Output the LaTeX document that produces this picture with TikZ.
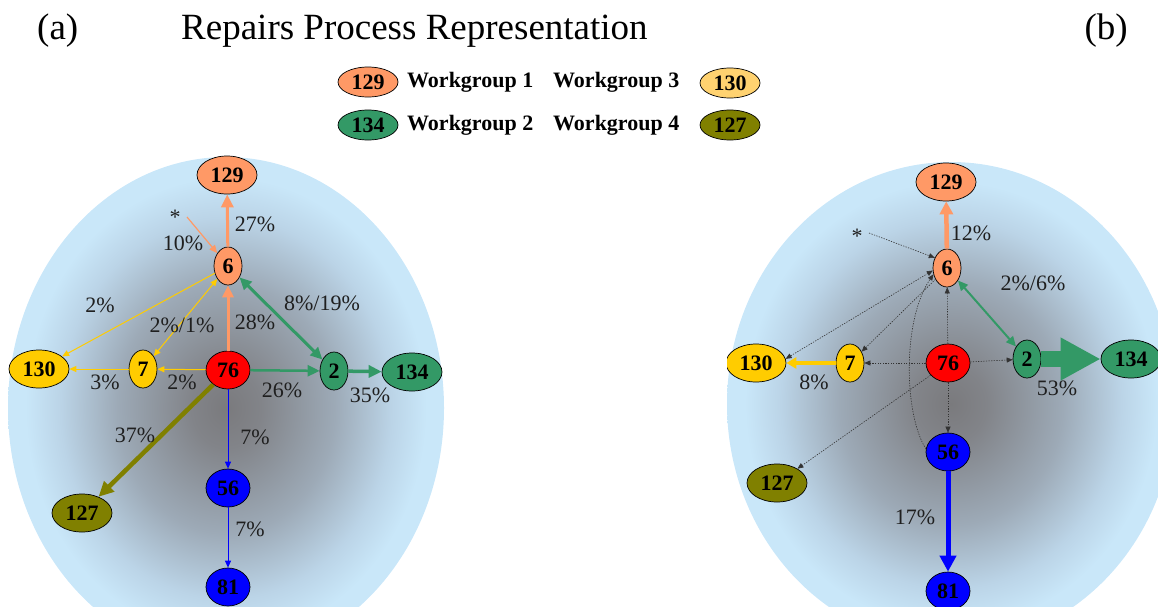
\documentclass[tikz,border=0pt]{standalone}
\usepackage{fontspec}
\setmainfont{Liberation Serif}
\usetikzlibrary{shapes.geometric,arrows.meta}

% workgroup and flow colours
\definecolor{salmon}{RGB}{255,153,102}
\definecolor{wgtwo}{RGB}{51,153,102}
\definecolor{gold}{RGB}{255,204,0}
\definecolor{paleorange}{RGB}{255,210,112}
\definecolor{olivegr}{RGB}{128,128,0}
\definecolor{pureblue}{RGB}{0,0,255}
\definecolor{purered}{RGB}{255,0,0}
% background haze: dark grey core fading to sky blue
\definecolor{sky}{RGB}{201,231,249}
\definecolor{hazecore}{RGB}{122,122,125}
\definecolor{hazea}{RGB}{130,132,137}
\definecolor{hazeb}{RGB}{157,170,183}
\definecolor{hazec}{RGB}{187,212,231}

% the rim of the shaded path sits at 25bp of the shading
\pgfdeclareradialshading{haze}{\pgfpointorigin}{%
  color(0bp)=(hazecore); color(4bp)=(hazea); color(12.5bp)=(hazeb);
  color(19bp)=(hazec); color(23bp)=(sky); color(50bp)=(sky)}

\tikzset{
  wg/.style={ellipse, draw=black, line width=0.7pt, inner sep=0pt,
             font=\bfseries\fontsize{22}{22}\selectfont},
  ovwide/.style={wg, minimum width=60pt, minimum height=38pt},
  ovmid/.style={wg, minimum width=44pt, minimum height=38pt},
  ovnarrow/.style={wg, minimum width=28pt, minimum height=38pt},
  legendoval/.style={wg, minimum width=60pt, minimum height=30pt},
  pct/.style={inner sep=0pt, font=\fontsize{22}{22}\selectfont, text=black!88},
  keytext/.style={inner sep=0pt, anchor=west,
                  font=\bfseries\fontsize{22}{22}\selectfont},
  ttl/.style={inner sep=0pt, font=\fontsize{37}{37}\selectfont},
  thinflow/.style={line width=1pt, -{Triangle[length=7pt,width=6pt]}},
  thinboth/.style={line width=1pt,
     {Triangle[length=7pt,width=6pt]}-{Triangle[length=7pt,width=6pt]}},
  dots/.style={draw=black!80, line width=0.6pt, dash pattern=on 1.3pt off 1.3pt,
     -{Triangle[length=6pt,width=5pt]}},
}

\begin{document}
\begin{tikzpicture}[x=1pt,y=-1pt]
\useasboundingbox (0,0) rectangle (1158,606);

% ---------- titles ----------
\node[ttl, anchor=west] (ta) at (37,31) {(a)};
\node[ttl, anchor=west] (tt) at (181,31) {Repairs Process Representation};
\node[ttl, anchor=east] (tb) at (1128,31) {(b)};

% ---------- legend ----------
\node[legendoval, fill=salmon] (l129) at (368,82) {129};
\node[keytext] (k1) at (407,82) {Workgroup 1};
\node[keytext] (k3) at (553,82) {Workgroup 3};
\node[legendoval, fill=paleorange] (l130) at (730,83) {130};
\node[legendoval, fill=wgtwo] (l134) at (368,125) {134};
\node[keytext] (k2) at (407,125) {Workgroup 2};
\node[keytext] (k4) at (553,125) {Workgroup 4};
\node[legendoval, fill=olivegr] (l127) at (730,125) {127};

% ---------- panel (a) ----------
\shade[shading=haze] (226,408) ellipse [x radius=218pt, y radius=251pt];

\node[ovwide, fill=salmon] (a129) at (227,175) {129};
\node[ovnarrow, fill=salmon] (a6) at (228,266) {6};
\node[ovmid, fill=purered] (a76) at (228,370) {76};
\node[ovnarrow, fill=gold] (a7) at (143,369) {7};
\node[ovwide, fill=gold] (a130) at (39,369) {130};
\node[ovnarrow, fill=wgtwo] (a2) at (334,371) {2};
\node[ovwide, fill=wgtwo] (a134) at (412,372) {134};
\node[ovwide, fill=olivegr] (a127) at (82,513) {127};
\node[ovmid, fill=pureblue] (a56) at (228,488) {56};
\node[ovmid, fill=pureblue] (a81) at (228,587) {81};
\coordinate (astar) at (187,217);

\draw[salmon, line width=3pt, -{Triangle[length=12pt,width=11pt]}] (a76) -- (a6);
\draw[salmon, line width=3pt, -{Triangle[length=13pt,width=12pt]}] (a6) -- (a129);
\draw[salmon, line width=1.2pt, -{Triangle[length=8pt,width=7pt]}] (astar) -- (a6);
\draw[gold, thinflow] (a6) -- (a130);
\draw[gold, thinboth] (a6) -- (a7);
\draw[gold, thinflow] (a76) -- (a7);
\draw[gold, thinflow] (a7) -- (a130);
\draw[wgtwo, line width=2.5pt, -{Triangle[length=12pt,width=11pt]}] (a76) -- (a2);
\draw[wgtwo, line width=3.5pt, -{Triangle[length=13pt,width=12pt]}] (a2) -- (a134);
\draw[wgtwo, line width=3pt,
  {Triangle[length=12pt,width=11pt]}-{Triangle[length=12pt,width=11pt]}] (a6) -- (a2);
\draw[olivegr, line width=4.5pt, -{Triangle[length=15pt,width=14pt]}] (a76) -- (a127);
\draw[pureblue, thinflow] (a76) -- (a56);
\draw[pureblue, thinflow] (a56) -- (a81);

\node[pct] (as) at (175,217) {*};
\node[pct] (ap10) at (183,243) {10\%};
\node[pct] (ap27) at (255,224) {27\%};
\node[pct] (ap2a) at (100,305) {2\%};
\node[pct] (ap21) at (182,325) {2\%/1\%};
\node[pct] (ap28) at (255,322) {28\%};
\node[pct] (ap819) at (322,303) {8\%/19\%};
\node[pct] (ap3) at (105,382) {3\%};
\node[pct] (ap2b) at (182,382) {2\%};
\node[pct] (ap26) at (282,390) {26\%};
\node[pct] (ap35) at (370,395) {35\%};
\node[pct] (ap37) at (135,435) {37\%};
\node[pct] (ap7a) at (255,437) {7\%};
\node[pct] (ap7b) at (250,529) {7\%};

% ---------- panel (b) ----------
\begin{scope}
\clip (727,0) rectangle (1158,606);
\shade[shading=haze] (951,404) ellipse [x radius=224pt, y radius=242pt];

\node[ovwide, fill=salmon] (b129) at (946,182) {129};
\node[ovnarrow, fill=salmon] (b6) at (947,268) {6};
\node[ovmid, fill=purered] (b76) at (948,363) {76};
\node[ovnarrow, fill=gold] (b7) at (850,363) {7};
\node[ovwide, fill=gold] (b130) at (756,363) {130};
\node[ovnarrow, fill=wgtwo] (b2) at (1027,359) {2};
\node[ovwide, fill=wgtwo] (b134) at (1131,359) {134};
\node[ovwide, fill=olivegr] (b127) at (777,483) {127};
\node[ovmid, fill=pureblue] (b56) at (948,452) {56};
\node[ovmid, fill=pureblue] (b81) at (948,591) {81};
\coordinate (bstar) at (869,233);

\draw[dots] (bstar) -- (b6.140);
\draw[dots] (b76) -- (b6);
\draw[dots] (b76) -- (b7);
\draw[dots] (b76) -- (b2);
\draw[dots] (b76) -- (b56);
\draw[dots] (b76) -- (b127);
\draw[dots] (b6) -- (b7);
\draw[dots, {Triangle[length=6pt,width=5pt]}-{Triangle[length=6pt,width=5pt]}]
  (b6.190) -- (b130.8);
\draw[dots] (b56.172) .. controls (904,415) and (902,320) .. (b6.205);

\draw[salmon, line width=4.5pt, -{Triangle[length=13pt,width=13pt]}] (b6) -- (b129);
\draw[wgtwo, line width=2pt,
  {Triangle[length=10pt,width=9pt]}-{Triangle[length=10pt,width=9pt]}] (b6) -- (b2);
\draw[gold, line width=4pt, -{Triangle[length=10pt,width=11pt]}] (b7) -- (b130);
\draw[wgtwo, line width=16pt, -{Triangle[length=40pt,width=40pt]}] (b2) -- (b134);
\draw[pureblue, line width=5pt, -{Triangle[length=16pt,width=16pt]}] (b56) -- (b81);

\node[pct] (bs) at (857,236) {*};
\node[pct] (bp12) at (971,233) {12\%};
\node[pct] (bp26) at (1033,283) {2\%/6\%};
\node[pct] (bp8) at (814,382) {8\%};
\node[pct] (bp53) at (1057,388) {53\%};
\node[pct] (bp17) at (915,517) {17\%};
\end{scope}
\end{tikzpicture}
\end{document}
